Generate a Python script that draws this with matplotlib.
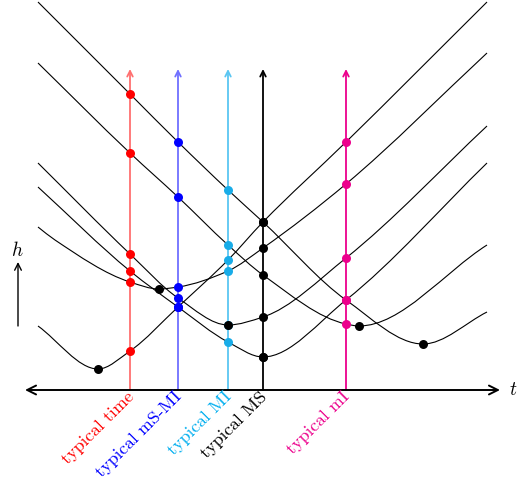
import numpy as np
import matplotlib
matplotlib.use('Agg')
import matplotlib.pyplot as plt
from matplotlib.path import Path
from matplotlib.patches import PathPatch

plt.rcParams['font.family'] = ['cmr10', 'DejaVu Serif']
plt.rcParams['mathtext.fontset'] = 'cm'
plt.rcParams['axes.unicode_minus'] = False

# typical times (vertical lines)
typ_names = ['typical time', 'typical mS-MI', 'typical MI', 'typical MS', 'typical mI']
typ_t = [1.84, 2.8, 3.8, 4.5, 6.16]
typ_line_col = ['#ff7070', '#7070ff', '#5ac6f2', '#000000', '#ec008c']
typ_dot_col = ['#ff0000', '#0000ff', '#18ace8', '#000000', '#ec008c']
typ_text_col = ['#ff0000', '#0000ff', '#00aeef', '#000000', '#ec008c']

# curves h(t): ends, minimum and heights at the typical times
t_left, t_right = 0.0, 8.98
left_h = [1.28, 3.26, 4.54, 4.06, 6.54, 7.76]
right_h = [7.76, 6.74, 5.28, 4.54, 2.90, 1.56]
min_t = [1.2, 2.42, 3.8, 4.5, 6.42, 7.7]
min_h = [0.42, 2.02, 1.30, 0.66, 1.28, 0.92]
h_at_typ = [
    [0.78, 1.66, 2.60, 3.36, 4.96],
    [2.16, 2.06, 2.38, 2.84, 4.12],
    [2.72, 1.84, 1.30, 1.46, 2.64],
    [2.38, 1.66, 0.96, 0.66, 1.80],
    [4.74, 3.86, 2.90, 2.30, 1.32],
    [5.92, 4.96, 4.00, 3.36, 1.80],
]
# a few more points
extra_t = [[], [0.34], [], [], [], []]
extra_h = [[], [3.00], [], [], [], []]


def smooth_path(t, h):
    # monotone cubic (pchip) through the points, as bezier segments
    t = np.asarray(t, float)
    h = np.asarray(h, float)
    dt = np.diff(t)
    dl = np.diff(h) / dt
    n = len(t)
    d = np.zeros(n)
    d[0] = dl[0]
    d[-1] = dl[-1]
    for k in range(1, n - 1):
        if dl[k - 1] * dl[k] > 0:
            w1 = 2 * dt[k] + dt[k - 1]
            w2 = dt[k] + 2 * dt[k - 1]
            d[k] = (w1 + w2) / (w1 / dl[k - 1] + w2 / dl[k])
    verts = [(t[0], h[0])]
    codes = [Path.MOVETO]
    for k in range(n - 1):
        verts += [(t[k] + dt[k] / 3, h[k] + d[k] * dt[k] / 3),
                  (t[k + 1] - dt[k] / 3, h[k + 1] - d[k + 1] * dt[k] / 3),
                  (t[k + 1], h[k + 1])]
        codes += [Path.CURVE4] * 3
    return Path(verts, codes)


fig = plt.figure(figsize=(5.26, 4.8), dpi=100)
ax = fig.add_axes([0, 0, 1, 1])
ax.set_xlim(-0.76, 9.76)
ax.set_ylim(-1.8, 7.8)
ax.axis('off')

# vertical lines with arrows
for t, c in zip(typ_t, typ_line_col):
    ax.annotate('', xy=(t, 6.42), xytext=(t, 0),
                arrowprops=dict(arrowstyle='->', color=c, lw=1.3,
                                shrinkA=0, shrinkB=0, mutation_scale=10),
                zorder=1)

# curves
for i in range(6):
    pts = {t_left: left_h[i], t_right: right_h[i], min_t[i]: min_h[i]}
    for t, h in zip(typ_t, h_at_typ[i]):
        pts.setdefault(t, h)
    for t, h in zip(extra_t[i], extra_h[i]):
        pts[t] = h
    ts = sorted(pts)
    hs = [pts[t] for t in ts]
    ax.add_patch(PathPatch(smooth_path(ts, hs), fill=False, color='black',
                           lw=0.8, zorder=2))

# dots on the typical lines
for j, t in enumerate(typ_t):
    hs = [h_at_typ[i][j] for i in range(6)]
    ax.scatter([t] * 6, hs, s=42, color=typ_dot_col[j], zorder=3, linewidths=0)
# minimum dots
ax.scatter(min_t, min_h, s=42, color='black', zorder=4, linewidths=0)

# time axis
ax.annotate('', xy=(9.24, 0), xytext=(-0.26, 0),
            arrowprops=dict(arrowstyle='<->', color='black', lw=1.4,
                            shrinkA=0, shrinkB=0, mutation_scale=16))
ax.text(9.42, 0, '$t$', fontsize=14, ha='left', va='center')

# h arrow
ax.annotate('', xy=(-0.4, 2.56), xytext=(-0.4, 1.28),
            arrowprops=dict(arrowstyle='->', color='black', lw=1.0,
                            shrinkA=0, shrinkB=0, mutation_scale=12))
ax.text(-0.42, 2.8, '$h$', fontsize=14, ha='center', va='center')

# rotated labels
for t, name, c in zip(typ_t, typ_names, typ_text_col):
    ax.text(t + 0.03, -0.09, name, rotation=45, rotation_mode='anchor',
            ha='right', va='center', fontsize=13, color=c)

fig.savefig('out.png', dpi=100)
